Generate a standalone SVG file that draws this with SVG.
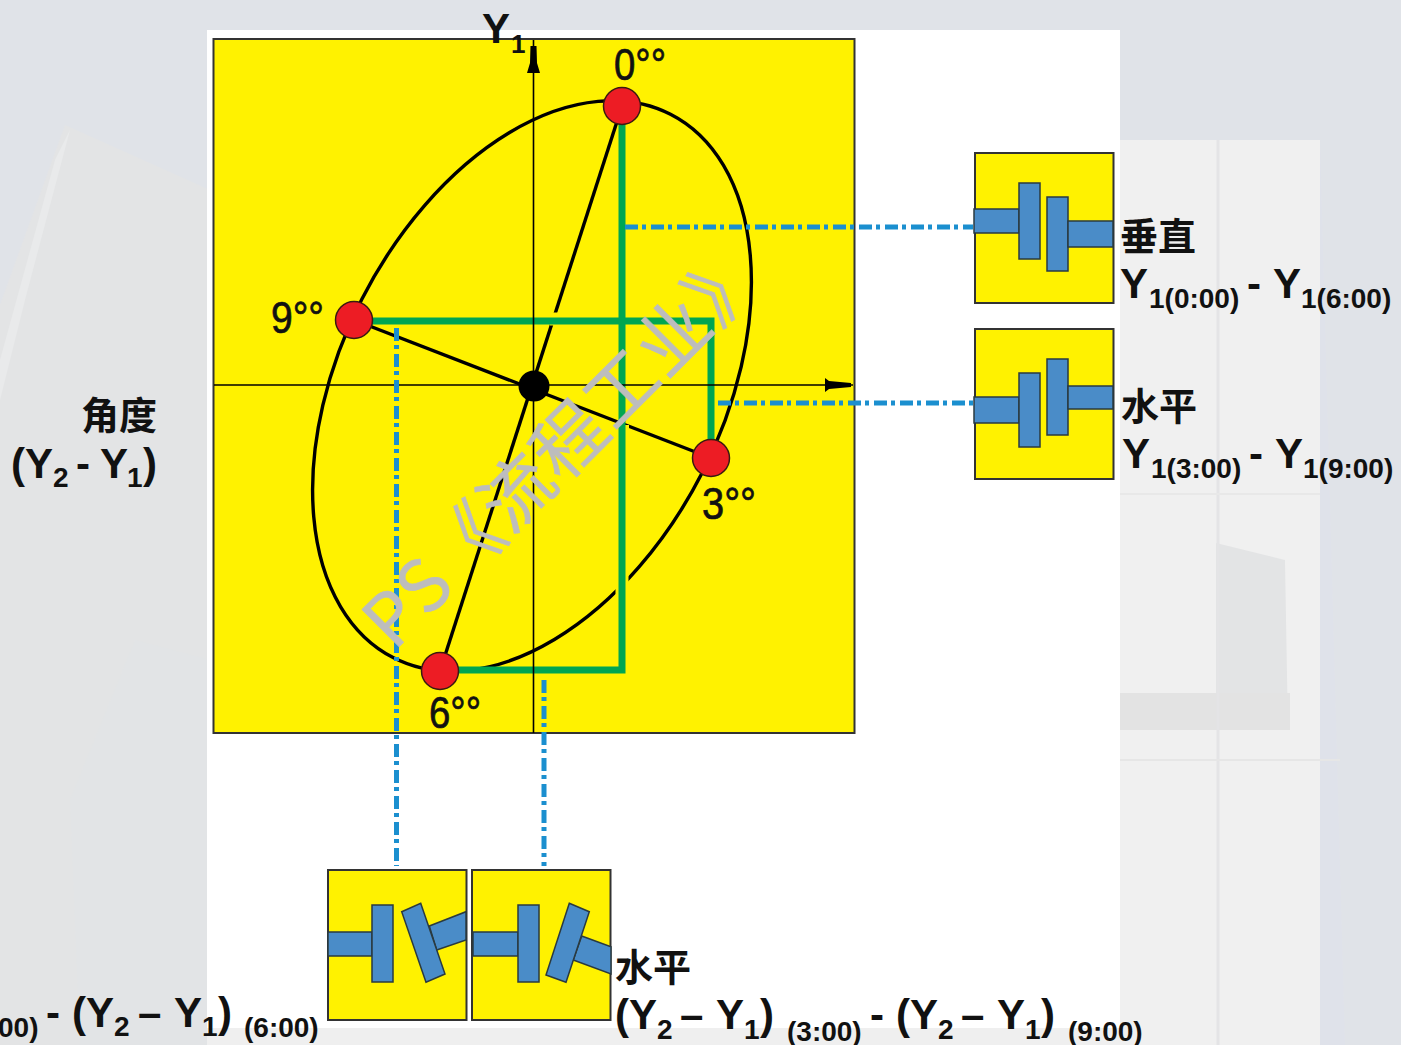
<svg xmlns="http://www.w3.org/2000/svg" width="1401" height="1045" viewBox="0 0 1401 1045">
<defs>
<style>
.t{font-family:"Liberation Sans","Noto Sans CJK SC",sans-serif;font-weight:700;fill:#111}
.o{font-family:"Liberation Sans",sans-serif;font-weight:400;fill:#111;stroke:#111;stroke-width:.7;font-size:44px}
.c{font-family:"Noto Sans CJK SC","Liberation Sans",sans-serif;font-weight:700;fill:#111;font-size:38px}
.y{fill:#FFF200;stroke:#333;stroke-width:2}
.b{fill:#4A8CC8;stroke:#2a3a40;stroke-width:1.5}
.g{fill:none;stroke:#00A651;stroke-width:7}
.d{fill:none;stroke:#1B8FCF;stroke-width:5;stroke-dasharray:13 4 4 5}
.k{fill:none;stroke:#000;stroke-width:3.4}
.a{fill:none;stroke:#000;stroke-width:1.6}
.r{fill:#ED1C24;stroke:#3a1a10;stroke-width:1.5}
.gap{fill:none;stroke:#FFF200;stroke-width:13}
</style>
</defs>
<g id="background">
<rect width="1401" height="1045" fill="#E0E3E8"/>
<polygon points="0,305 65,125 210,190 210,1045 0,1045" fill="#E3E4E5"/>
<polygon points="0,360 55,160 70,130 25,300 0,400" fill="#E9EAEB"/>
<polygon points="80,1045 70,800 135,640 210,660 210,1045" fill="#E2E4E6"/>
<rect x="1120" y="140" width="200" height="905" fill="#F0F0F0"/>
<polygon points="1320,140 1345,1045 1320,1045" fill="#DFE2EA"/>
<rect x="207" y="1028" width="913" height="17" fill="#EFEFEF"/>
<polygon points="1216,543 1285,560 1288,730 1216,730" fill="#E3E4E5"/>
<rect x="1120" y="693" width="170" height="37" fill="#E3E3E3"/>
<line x1="1218" y1="140" x2="1218" y2="1045" stroke="#E4E4E6" stroke-width="3"/>
<line x1="1120" y1="760" x2="1340" y2="760" stroke="#E6E6E6" stroke-width="2"/>
<line x1="1120" y1="494" x2="1320" y2="494" stroke="#E8E8E8" stroke-width="2"/>
<rect x="207" y="30" width="913" height="998" fill="#fff"/>
</g>
<g id="main-panel">
<rect class="y" x="213.500" y="39" width="641" height="694"/>
</g>
<g id="connectors">
<ellipse class="k" cx="532" cy="386" rx="191" ry="305" transform="rotate(27 532 386)"/>
<line class="k" x1="622" y1="106" x2="440" y2="671"/>
<line class="k" x1="354" y1="320" x2="711" y2="458"/>
<line class="gap" x1="622" y1="575" x2="622" y2="598"/>
<line class="gap" x1="550" y1="319" x2="568" y2="319" stroke-width="12"/>
<line class="gap" x1="622.500" y1="425" x2="622.500" y2="445"/>
<polyline class="g" points="622,120 622,670 455,670"/>
<polyline class="g" points="368,321 711,321 711,445"/>
<line class="a" x1="533.500" y1="40" x2="533.500" y2="733"/>
<line class="a" x1="214" y1="385" x2="853" y2="385"/>
<polygon points="530.500,46 536.500,46 537,63 540,73 527,73 530,63" fill="#000"/>
<polygon points="825,378 829,381 851,383 851,387 829,389 825,392" fill="#000"/>
<line class="d" x1="625" y1="227" x2="973" y2="227"/>
<line class="d" x1="718" y1="403" x2="973" y2="403"/>
<line class="d" x1="396.500" y1="328" x2="396.500" y2="866"/>
<line class="d" x1="544" y1="680" x2="544" y2="866"/>
</g>
<g id="point-0"><circle class="r" cx="622" cy="106" r="18.500"/><text class="o" x="614" y="80" textLength="52" lengthAdjust="spacingAndGlyphs">0°°</text></g>
<g id="point-9"><circle class="r" cx="354" cy="320" r="18.500"/><text class="o" x="271" y="333" textLength="53" lengthAdjust="spacingAndGlyphs">9°°</text></g>
<g id="point-3"><circle class="r" cx="711" cy="458" r="18.500"/><text class="o" x="702" y="519" textLength="54" lengthAdjust="spacingAndGlyphs">3°°</text></g>
<g id="point-6"><circle class="r" cx="440" cy="671" r="18.500"/><text class="o" x="429" y="728" textLength="52" lengthAdjust="spacingAndGlyphs">6°°</text></g>
<g id="center"><circle cx="534" cy="386" r="15.500" fill="#000"/></g>
<g id="y-axis-label"><text class="t" x="482" y="43" font-size="42">Y</text><text class="t" x="511" y="53" font-size="26">1</text></g>
<g id="angle-label">
<text class="c" x="81" y="429">角度</text>
<text class="t" x="11" y="478" font-size="42">(Y</text>
<text class="t" x="53" y="487" font-size="28">2</text>
<text class="t" x="76" y="478" font-size="42">-</text>
<text class="t" x="100" y="478" font-size="42">Y</text>
<text class="t" x="127" y="487" font-size="28">1</text>
<text class="t" x="143" y="478" font-size="42">)</text>
</g>
<g id="gauge-vertical">
<rect class="y" x="975" y="153" width="138.500" height="150"/>
<rect class="b" x="974" y="209" width="45" height="24"/>
<rect class="b" x="1019" y="183" width="21" height="76"/>
<rect class="b" x="1047" y="197" width="21" height="74"/>
<rect class="b" x="1068" y="221" width="45" height="26"/>
<text class="c" x="1120" y="250">垂直</text>
<text class="t" x="1120" y="298" font-size="42">Y</text>
<text class="t" x="1149" y="308" font-size="28">1(0:00)</text>
<text class="t" x="1247" y="298" font-size="42">-</text>
<text class="t" x="1273" y="298" font-size="42">Y</text>
<text class="t" x="1301" y="308" font-size="28">1(6:00)</text>
</g>
<g id="gauge-horizontal">
<rect class="y" x="975" y="329" width="138.500" height="150"/>
<rect class="b" x="974" y="397" width="45" height="26"/>
<rect class="b" x="1019" y="373" width="21" height="74"/>
<rect class="b" x="1047" y="359" width="21" height="76"/>
<rect class="b" x="1068" y="386" width="45" height="23"/>
<text class="c" x="1121" y="420">水平</text>
<text class="t" x="1122" y="468" font-size="42">Y</text>
<text class="t" x="1151" y="478" font-size="28">1(3:00)</text>
<text class="t" x="1249" y="468" font-size="42">-</text>
<text class="t" x="1275" y="468" font-size="42">Y</text>
<text class="t" x="1303" y="478" font-size="28">1(9:00)</text>
</g>
<g id="gauge-angle-6">
<rect class="y" x="328" y="870" width="138.500" height="150"/>
<rect class="b" x="328" y="932" width="44" height="24"/>
<rect class="b" x="372" y="905" width="21" height="77"/>
<polygon class="b" points="429.300,926 466,911.700 466,940 436.700,950"/>
<polygon class="b" points="401.700,911.700 420.700,903.300 445,974 426,982.300"/>
<text class="t" x="-2" y="1037" font-size="28">00)</text>
<text class="t" x="46" y="1027" font-size="42">-</text>
<text class="t" x="72" y="1027" font-size="42">(Y</text>
<text class="t" x="114" y="1036" font-size="28">2</text>
<text class="t" x="138" y="1027" font-size="42">–</text>
<text class="t" x="174" y="1027" font-size="42">Y</text>
<text class="t" x="202" y="1036" font-size="28">1</text>
<text class="t" x="218" y="1027" font-size="42">)</text>
<text class="t" x="244" y="1037" font-size="28">(6:00)</text>
</g>
<g id="gauge-angle-3">
<rect class="y" x="472" y="870" width="138.500" height="150"/>
<rect class="b" x="473" y="932" width="45" height="24"/>
<rect class="b" x="518" y="905" width="21" height="77"/>
<polygon class="b" points="581.700,936 611,946.700 611,974 573.300,960"/>
<polygon class="b" points="569.300,903.300 589.300,911.700 566,982.300 546,975"/>
<text class="c" x="615" y="981">水平</text>
<text class="t" x="615" y="1029" font-size="42">(Y</text>
<text class="t" x="657" y="1039" font-size="28">2</text>
<text class="t" x="680" y="1029" font-size="42">–</text>
<text class="t" x="716" y="1029" font-size="42">Y</text>
<text class="t" x="744" y="1039" font-size="28">1</text>
<text class="t" x="760" y="1029" font-size="42">)</text>
<text class="t" x="787" y="1041" font-size="28">(3:00)</text>
<text class="t" x="870" y="1029" font-size="42">-</text>
<text class="t" x="896" y="1029" font-size="42">(Y</text>
<text class="t" x="938" y="1039" font-size="28">2</text>
<text class="t" x="961" y="1029" font-size="42">–</text>
<text class="t" x="997" y="1029" font-size="42">Y</text>
<text class="t" x="1025" y="1039" font-size="28">1</text>
<text class="t" x="1041" y="1029" font-size="42">)</text>
<text class="t" x="1068" y="1041" font-size="28">(9:00)</text>
</g>
<g id="watermark"><text x="394" y="652" transform="rotate(-45 394 652)" font-family="'Noto Sans CJK SC','Liberation Sans',sans-serif" font-size="72" letter-spacing="1.500" fill="#BDBDBD" stroke="#BDBDBD" stroke-width="0.500">PS《流程工业》</text></g>
</svg>
